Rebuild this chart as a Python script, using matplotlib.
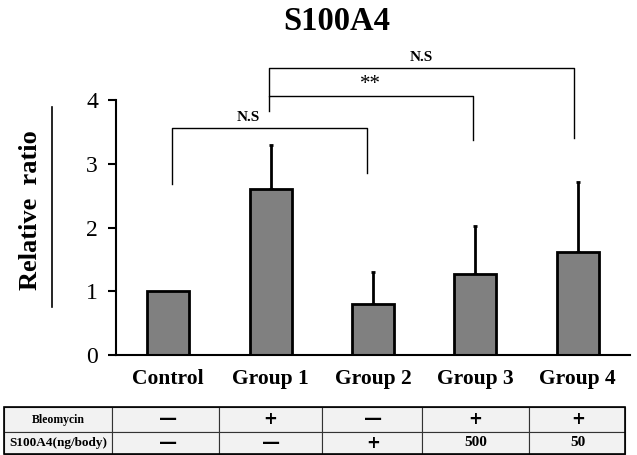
import numpy as np
import matplotlib
matplotlib.use('Agg')
import matplotlib.pyplot as plt
from matplotlib.patches import Rectangle
from matplotlib.lines import Line2D
from matplotlib.transforms import blended_transform_factory

plt.rcParams['font.family'] = ['Liberation Serif', 'DejaVu Serif']

# 数据
groups = ['Control', 'Group 1', 'Group 2', 'Group 3', 'Group 4']
ratio = [1.0, 2.60, 0.80, 1.27, 1.62]
err = [0.0, 0.69, 0.50, 0.75, 1.10]
bleomycin = ['—', '+', '—', '+', '+']
s100a4_dose = ['—', '—', '+', '500', '50']
row_names = ['Bleomycin', 'S100A4(ng/body)']

# 显著性比较: (左组, 右组, 标签, 顶部高度, 左端底部, 右端底部)
comparisons = [
    (0, 2, 'N.S', 3.56, 2.68, 2.85),
    (1, 3, '**', 4.07, 3.82, 3.37),
    (1, 4, 'N.S', 4.50, 4.07, 3.40),
]

fig = plt.figure(figsize=(6.37, 4.55), dpi=100)
ax = fig.add_axes([116 / 637, 1 - 355 / 455, 514 / 637, 255 / 455])

x = np.arange(len(groups))
ax.bar(x, ratio, width=0.41, color='#808080', edgecolor='black', linewidth=2, zorder=2)
ax.errorbar(x[1:], ratio[1:], yerr=[np.zeros(len(err) - 1), err[1:]], fmt='none',
            ecolor='black', elinewidth=2, capsize=1.5, capthick=2, zorder=1)

ax.set_xlim(-0.51, 4.51)
ax.set_ylim(0, 4)
ax.set_yticks([0, 1, 2, 3, 4])
ax.set_xticks(x)
ax.set_xticklabels(groups, fontsize=15.5, fontweight='bold')
ax.tick_params(axis='x', length=0, pad=10)
ax.tick_params(axis='y', length=6, width=1.5, direction='out', labelsize=17, pad=7)
for s in ['top', 'right']:
    ax.spines[s].set_visible(False)
for s in ['left', 'bottom']:
    ax.spines[s].set_linewidth(1.5)

# 显著性括号
offs = {(0, 2): (0.04, -0.06), (1, 3): (-0.02, -0.02), (1, 4): (-0.02, -0.04)}
for a, b, lab, top, ya, yb in comparisons:
    oa, ob = offs[(a, b)]
    xa, xb = x[a] + oa, x[b] + ob
    ax.plot([xa, xa, xb, xb], [ya, top, top, yb], color='black', lw=1.0, clip_on=False)
    if lab == '**':
        ax.text((xa + xb) / 2, top + 0.02, lab, ha='center', va='bottom', fontsize=15)
    elif a == 0:
        ax.text(0.78, top + 0.06, lab, ha='center', va='bottom', fontsize=11, fontweight='bold')
    else:
        ax.text((xa + xb) / 2, top + 0.06, lab, ha='center', va='bottom', fontsize=11, fontweight='bold')

# 标题和纵轴标签
fig.text(337 / 637, 1 - 21 / 455, 'S100A4', ha='center', va='center', fontsize=23.5, fontweight='bold')
fig.text(31 / 637, 1 - 210 / 455, 'Relative  ratio', rotation=90, ha='center', va='center',
         fontsize=19, fontweight='bold')
fig.add_artist(Line2D([52 / 637, 52 / 637], [1 - 107 / 455, 1 - 307 / 455], color='black', lw=1.2))

# 下方表格
tr = blended_transform_factory(ax.transData, fig.transFigure)
edges = [-1.60, -0.546, 0.498, 1.502, 2.478, 3.522, 4.459]
row_y = [1 - 407 / 455, 1 - 432 / 455, 1 - 454 / 455]
rows = [bleomycin, s100a4_dose]
for r in range(2):
    y0, y1 = row_y[r + 1], row_y[r]
    for c in range(len(edges) - 1):
        ax.add_patch(Rectangle((edges[c], y0), edges[c + 1] - edges[c], y1 - y0, transform=tr,
                               facecolor='#f2f2f2', edgecolor='#333333', lw=0.8, clip_on=False))
    ym = (y0 + y1) / 2
    ax.text((edges[0] + edges[1]) / 2, ym, row_names[r], transform=tr, ha='center', va='center',
            fontsize=8.5 if r == 0 else 9.5, fontweight='bold')
    for c, val in enumerate(rows[r]):
        if val.isdigit():
            ax.text(x[c], ym, val, transform=tr, ha='center', va='center', fontsize=11, fontweight='bold')
        else:
            ax.text(x[c], ym, val, transform=tr, ha='center', va='center', fontweight='bold',
                    fontsize=12 if val == '+' else 13, family='DejaVu Sans')
ax.add_patch(Rectangle((edges[0], row_y[2]), edges[-1] - edges[0], row_y[0] - row_y[2], transform=tr,
                       facecolor='none', edgecolor='black', lw=1.2, clip_on=False))

fig.savefig('out.png', dpi=100)
